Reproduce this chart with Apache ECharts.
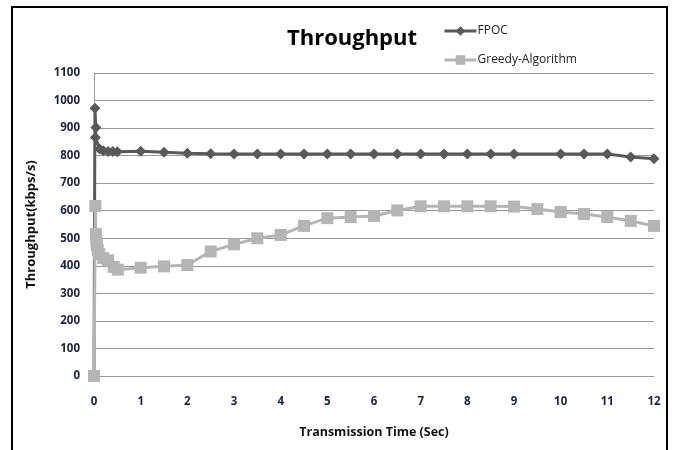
<!DOCTYPE html>
<html>
<head>
<meta charset="utf-8">
<script src="https://cdn.jsdelivr.net/npm/echarts@6/dist/echarts.min.js"></script>
<style>html,body{margin:0;padding:0;background:#fff}#c{width:674px;height:450px}</style>
</head>
<body>
<div id="c"></div>
<script>
var seriesNames = ['FPOC', 'Greedy-Algorithm'];
var fpocX = [0, 0.02, 0.04, 0.03, 0.12, 0.2, 0.3, 0.4, 0.5, 1, 1.5, 2, 2.5, 3, 3.5, 4, 4.5, 5, 5.5, 6, 6.5, 7, 7.5, 8, 8.5, 9, 10, 10.5, 11, 11.5, 12];
var fpocY = [0, 972, 902, 866, 824, 818, 815, 815, 814, 816, 812, 809, 807, 806, 806, 806, 806, 806, 806, 806, 806, 806, 806, 806, 806, 806, 806, 806, 806, 795, 789];
var greedyX = [0, 0.03, 0.04, 0.05, 0.06, 0.08, 0.11, 0.2, 0.3, 0.42, 0.51, 1, 1.5, 2, 2.5, 3, 3.5, 4, 4.5, 5, 5.5, 6, 6.5, 7, 7.5, 8, 8.5, 9, 9.5, 10, 10.5, 11, 11.5, 12];
var greedyY = [0, 617, 515, 494, 475, 458, 443, 428, 420, 396, 386, 393, 398, 403, 452, 478, 500, 512, 545, 573, 577, 581, 601, 616, 616, 616, 616, 615, 606, 595, 588, 577, 563, 545];
var yTicks = [0, 100, 200, 300, 400, 500, 600, 700, 800, 900, 1000, 1100];
var xTicks = [0, 1, 2, 3, 4, 5, 6, 7, 8, 9, 10, 11, 12];

function pairs(xs, ys) { return xs.map(function (x, i) { return [x, ys[i]]; }); }

var chart = echarts.init(document.getElementById('c'), null, { renderer: 'canvas' });
var font = 'Open Sans';
chart.setOption({
  animation: false,
  backgroundColor: '#fff',
  title: {
    text: 'Throughput', left: 347, top: 23, textAlign: 'center',
    textStyle: { fontFamily: font, fontWeight: 'bold', fontSize: 22, color: '#000' }
  },
  legend: {
    orient: 'vertical', left: 438, top: 20, itemGap: 17, itemWidth: 32, itemHeight: 12,
    data: [seriesNames[0], seriesNames[1]],
    lineStyle: { width: 3 },
    textStyle: { fontFamily: font, fontSize: 12, color: '#222', padding: [0, 0, 0, -4] }
  },
  graphic: [{
    type: 'rect', shape: { x: 12, y: 7, width: 655, height: 460 },
    style: { fill: 'none', stroke: '#000', lineWidth: 2 }, silent: true, z: 100
  }],
  grid: { left: 94, right: 20, top: 73, bottom: 74 },
  xAxis: {
    type: 'value', min: xTicks[0], max: xTicks[xTicks.length - 1], interval: 1,
    name: 'Transmission Time (Sec)', nameLocation: 'middle', nameGap: 50,
    nameTextStyle: { fontFamily: font, fontWeight: 'bold', fontSize: 12.5, color: '#111' },
    axisLine: { show: true, onZero: false, lineStyle: { color: '#999', width: 1 } },
    axisTick: { show: false },
    splitLine: { show: false },
    axisLabel: { fontFamily: font, fontWeight: 'bold', fontSize: 11.5, color: '#1c2340', margin: 20 }
  },
  yAxis: {
    type: 'value', min: yTicks[0], max: yTicks[yTicks.length - 1], interval: 100,
    name: 'Throughput(kbps/s)', nameLocation: 'middle', nameGap: 56, nameRotate: 90,
    nameTextStyle: { fontFamily: font, fontWeight: 'bold', fontSize: 13, color: '#111' },
    axisLine: { show: true, lineStyle: { color: '#999', width: 1 } },
    axisTick: { show: false },
    splitLine: { show: true, lineStyle: { color: '#999', width: 1 } },
    axisLabel: { fontFamily: font, fontWeight: 'bold', fontSize: 11.5, color: '#1c2340', margin: 14,
      formatter: function (v) { return String(v); } }
  },
  series: [
    {
      name: seriesNames[0], type: 'line', data: pairs(fpocX, fpocY),
      symbol: 'diamond', symbolSize: 11, z: 2,
      lineStyle: { color: '#595959', width: 3 },
      itemStyle: { color: '#595959' }
    },
    {
      name: seriesNames[1], type: 'line', data: pairs(greedyX, greedyY),
      symbol: 'rect', symbolSize: 12, z: 3,
      lineStyle: { color: '#b5b5b5', width: 3 },
      itemStyle: { color: '#b5b5b5' }
    }
  ]
});
</script>
</body>
</html>
